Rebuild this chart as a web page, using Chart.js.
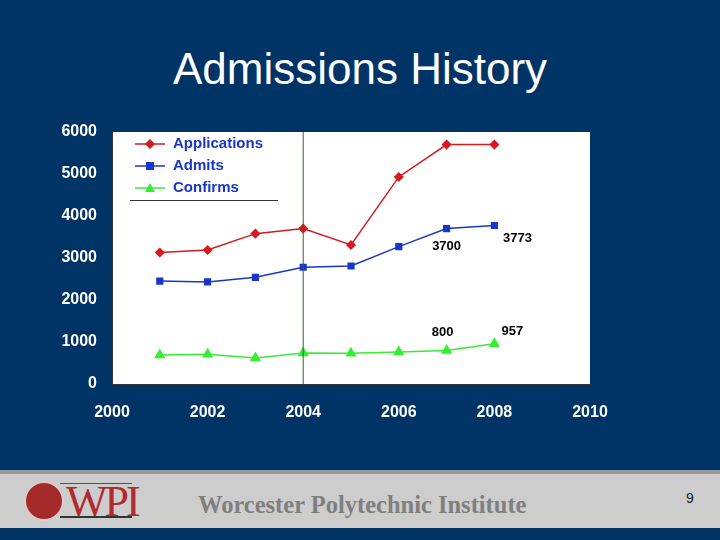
<!DOCTYPE html>
<html><head><meta charset="utf-8">
<script src="https://cdn.jsdelivr.net/npm/chart.js@4"></script>
<style>
body{margin:0;width:720px;height:540px;background:#003366;position:relative;overflow:hidden;font-family:"Liberation Sans",Arial,sans-serif}
#title{position:absolute;top:44px;left:0;width:720px;text-align:center;color:#fff;font-size:44px}
#wrap{position:absolute;left:0;top:1px;width:720px;height:460px}
#f1{position:absolute;left:0;top:470px;width:720px;height:4px;background:#999}
#f2{position:absolute;left:0;top:474px;width:720px;height:54px;background:#cdcdcd}
#wpi{position:absolute;left:66px;top:476px;font-family:"Liberation Serif",serif;font-size:44px;color:#b02a30;letter-spacing:-3px}
#seal{position:absolute;left:24px;top:481px;width:36px;height:36px;border-radius:50%;background:#a52a2a;border:2px solid #dcc}
#ul{position:absolute;left:60px;top:516px;width:72px;height:2px;background:#333}
#ol{position:absolute;left:60px;top:483px;width:72px;height:1px;background:#555}
#inst{position:absolute;left:198px;top:491px;font-family:"Liberation Serif",serif;font-weight:bold;font-size:24.5px;color:#7f7f7f}
#pg{position:absolute;left:686px;top:490px;font-size:14px;color:#222}
</style></head><body>
<div id="title">Admissions History</div>
<div id="wrap"><canvas id="c" width="720" height="460"></canvas></div>
<div id="f1"></div><div id="f2"></div>
<div id="seal"></div><div id="ol"></div><div id="wpi">WPI</div><div id="ul"></div>
<div id="inst">Worcester Polytechnic Institute</div>
<div id="pg">9</div>
<script>
const years=[2001,2002,2003,2004,2005,2006,2007,2008];
const applications=[3130,3190,3580,3700,3310,4930,5700,5700];
const admits=[2450,2430,2540,2780,2810,3270,3700,3773];
const confirms=[690,710,620,740,730,760,800,957];
const labels=[{x:2007,y:3700,t:"3700",dx:0,dy:18},{x:2008,y:3773,t:"3773",dx:23,dy:13},{x:2007,y:800,t:"800",dx:-4,dy:-18},{x:2008,y:957,t:"957",dx:18,dy:-12}];
const pts=a=>a.map((v,i)=>({x:years[i],y:v}));
const series=[
 {label:"Applications",data:pts(applications),borderColor:"#d7191f",backgroundColor:"#d7191f",pointStyle:"rectRot",pointRadius:4},
 {label:"Admits",data:pts(admits),borderColor:"#1836c8",backgroundColor:"#1836c8",pointStyle:"rect",pointRadius:4},
 {label:"Confirms",data:pts(confirms),borderColor:"#33ee33",backgroundColor:"#33ee33",pointStyle:"triangle",pointRadius:5}
];
const bg={id:"bg",beforeDraw(ch){const a=ch.chartArea,c=ch.ctx;c.save();c.fillStyle="#fff";c.fillRect(a.left,a.top,a.right-a.left,a.bottom-a.top);c.restore();},
 afterDatasetsDraw(ch){const c=ch.ctx,a=ch.chartArea,xs=ch.scales.x,ys=ch.scales.y;c.save();
  const vx=xs.getPixelForValue(2004);c.strokeStyle="#336633";c.lineWidth=1;c.beginPath();c.moveTo(vx,a.top);c.lineTo(vx,a.bottom);c.stroke();
  c.fillStyle="#fff";c.fillRect(130,131,148,68);c.strokeStyle="#333";c.beginPath();c.moveTo(130,199.5);c.lineTo(278,199.5);c.stroke();
  c.font="bold 15px 'Liberation Sans',Arial";c.textBaseline="middle";
  series.forEach((s,i)=>{const y=143+i*22;c.strokeStyle=s.borderColor;c.lineWidth=1.5;c.beginPath();c.moveTo(135,y);c.lineTo(165,y);c.stroke();
   c.fillStyle=s.backgroundColor;c.beginPath();
   if(i==0){c.moveTo(150,y-5);c.lineTo(155,y);c.lineTo(150,y+5);c.lineTo(145,y);}else if(i==1){c.rect(146,y-4,8,8);}else{c.moveTo(150,y-5);c.lineTo(155,y+4);c.lineTo(145,y+4);}
   c.fill();c.fillStyle="#1836c8";c.textAlign="left";c.fillText(s.label,173,y);});
  c.fillStyle="#000";c.font="bold 13px 'Liberation Sans',Arial";c.textAlign="center";
  labels.forEach(l=>c.fillText(l.t,xs.getPixelForValue(l.x)+l.dx,ys.getPixelForValue(l.y)+l.dy));
  c.restore();}};
new Chart(document.getElementById("c"),{type:"line",data:{datasets:series.map(s=>Object.assign({borderWidth:1.5,tension:0},s))},
 options:{responsive:false,animation:false,layout:{padding:{left:0,right:130,top:131,bottom:0}},
 plugins:{legend:{display:false},tooltip:{enabled:false}},
 scales:{x:{type:"linear",min:2000,max:2010,afterFit(s){s.height=77;},grid:{display:false,drawTicks:true,tickLength:5,color:"#333"},border:{color:"#333"},
   ticks:{stepSize:2,color:"#fff",font:{size:16,weight:"bold",family:"'Liberation Sans',Arial"},padding:14,callback:v=>String(v)}},
  y:{min:0,max:6000,afterFit(s){s.width=112;},grid:{display:false,tickLength:5,color:"#333"},border:{color:"#333"},
   ticks:{stepSize:1000,color:"#fff",font:{size:16,weight:"bold",family:"'Liberation Sans',Arial"},padding:10,callback:v=>String(v)}}}},
 plugins:[bg]});
</script></body></html>
